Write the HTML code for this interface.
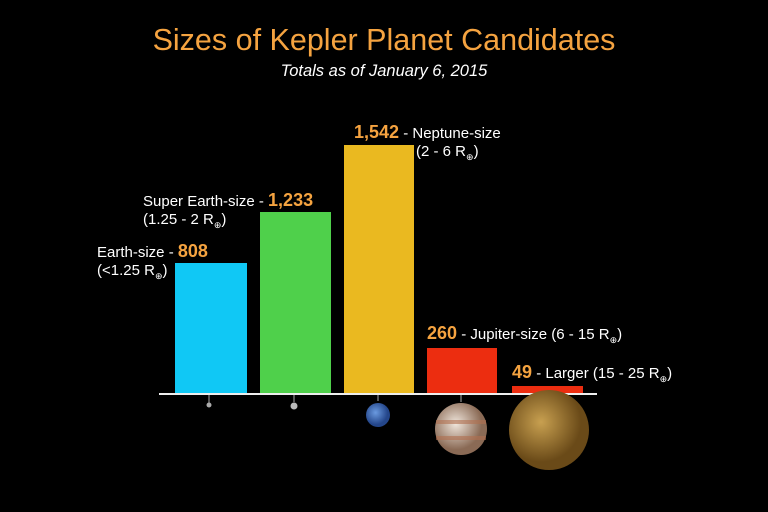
<!DOCTYPE html>
<html><head><meta charset="utf-8"><style>
body{margin:0;background:#000;width:768px;height:512px;overflow:hidden;font-family:"Liberation Sans",sans-serif;position:relative;color:#fff}
.a{position:absolute;white-space:nowrap}
.o{color:#f5a340}
.l{font-size:15px;line-height:18px}
.n{font-size:18px;font-weight:bold}
sub{font-size:9px}
.bar{position:absolute}
</style></head><body>
<div class="a o" style="left:0;width:768px;text-align:center;top:23px;font-size:30.5px">Sizes of Kepler Planet Candidates</div>
<div class="a" style="left:0;width:768px;text-align:center;top:62px;font-size:16.5px;font-style:italic">Totals as of January 6, 2015</div>

<div class="bar" style="left:175px;top:263px;width:72px;height:131px;background:#10c8f5"></div>
<div class="bar" style="left:260px;top:212px;width:71px;height:182px;background:#4fd04b"></div>
<div class="bar" style="left:344px;top:145px;width:70px;height:249px;background:#eab920"></div>
<div class="bar" style="left:427px;top:348px;width:70px;height:46px;background:#ec2d10"></div>
<div class="bar" style="left:512px;top:386px;width:71px;height:8px;background:#ec2d10"></div>
<div class="bar" style="left:159px;top:393px;width:438px;height:2px;background:#eee"></div>

<div class="a l" style="left:97px;top:242px">Earth-size - <span class="o n">808</span><br>(&lt;1.25 R<sub>⊕</sub>)</div>
<div class="a l" style="left:143px;top:191px">Super Earth-size - <span class="o n">1,233</span><br>(1.25 - 2 R<sub>⊕</sub>)</div>
<div class="a l" style="left:354px;top:123px"><span class="o n">1,542</span> - Neptune-size<br><span style="padding-left:62px">(2 - 6 R<sub>⊕</sub>)</span></div>
<div class="a l" style="left:427px;top:324px"><span class="o n">260</span> - Jupiter-size (6 - 15 R<sub>⊕</sub>)</div>
<div class="a l" style="left:512px;top:363px"><span class="o n">49</span> - Larger (15 - 25 R<sub>⊕</sub>)</div>

<svg class="a" style="left:0;top:0" width="768" height="512">
<defs>
<radialGradient id="j" cx="40%" cy="40%"><stop offset="0" stop-color="#f0e6dc"/><stop offset="1" stop-color="#8a6a55"/></radialGradient>
<radialGradient id="v" cx="40%" cy="40%"><stop offset="0" stop-color="#c8a050"/><stop offset="1" stop-color="#6a4a18"/></radialGradient>
<radialGradient id="ne" cx="40%" cy="40%"><stop offset="0" stop-color="#6a9ae0"/><stop offset="1" stop-color="#24468a"/></radialGradient>
</defs>
<g stroke="#aaa" stroke-width="1">
<line x1="209" y1="395" x2="209" y2="403"/><line x1="294" y1="395" x2="294" y2="402"/>
<line x1="378" y1="395" x2="378" y2="401"/><line x1="461" y1="395" x2="461" y2="402"/><line x1="548" y1="395" x2="548" y2="402"/>
</g>
<circle cx="209" cy="405" r="2.5" fill="#aaa"/>
<circle cx="294" cy="406" r="3.5" fill="#bbb"/>
<circle cx="378" cy="415" r="12" fill="url(#ne)"/>
<circle cx="461" cy="429" r="26" fill="url(#j)"/>
<rect x="436" y="420" width="50" height="4" fill="#b07050" opacity=".6"/>
<rect x="436" y="436" width="50" height="4" fill="#b07050" opacity=".6"/>
<circle cx="549" cy="430" r="40" fill="url(#v)"/>
</svg>
</body></html>
